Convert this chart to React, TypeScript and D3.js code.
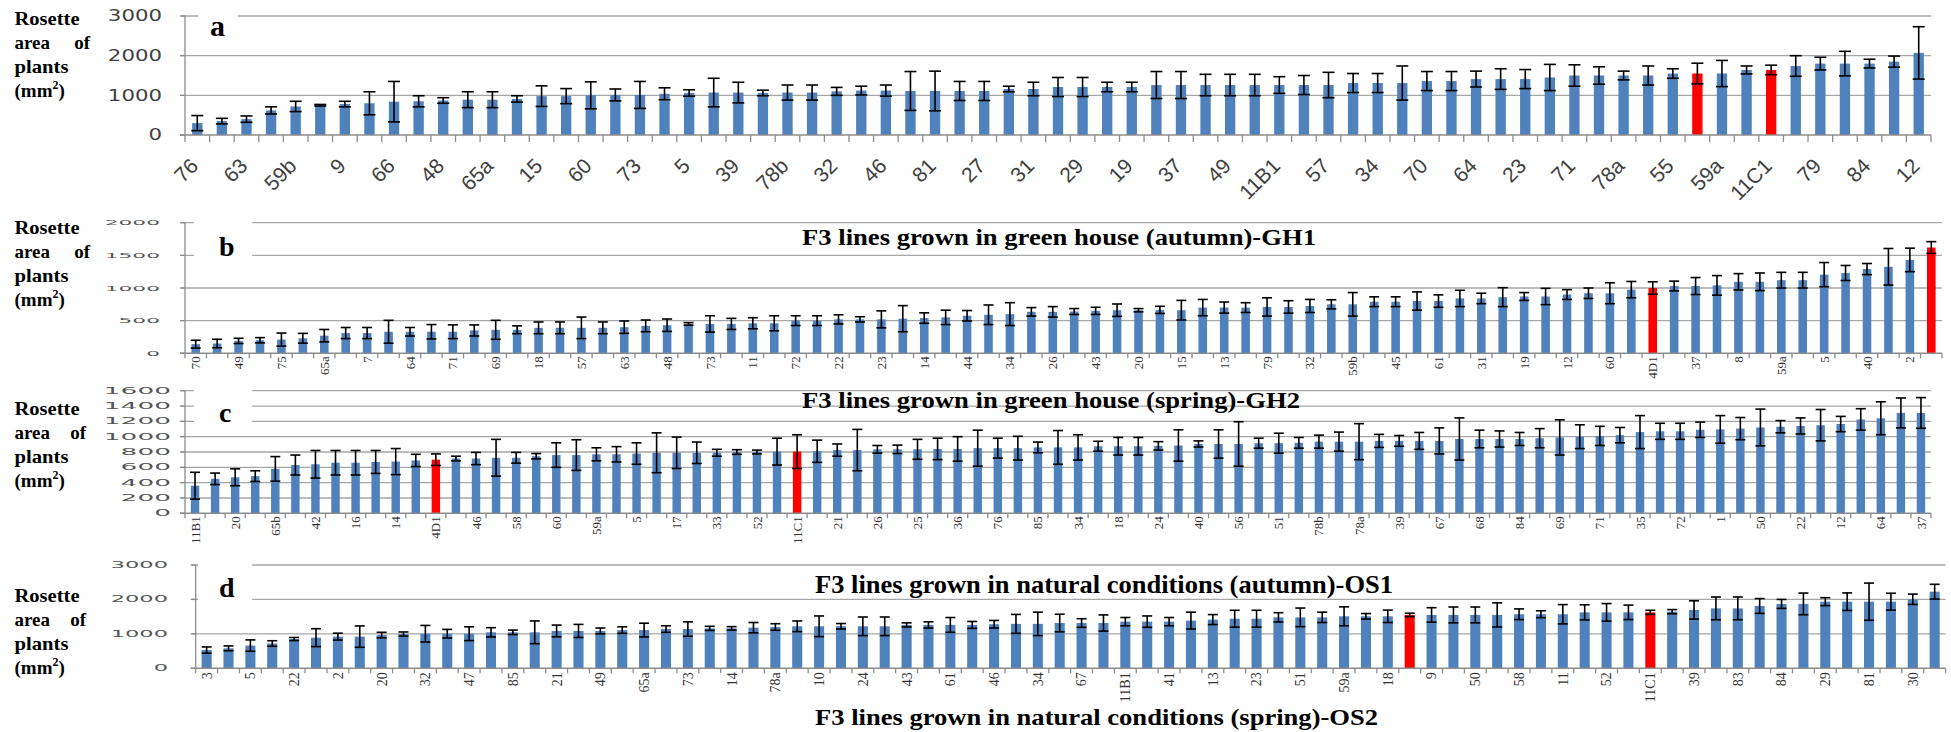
import React from "react";
import * as d3 from "d3";

// ---------------- DATA ----------------
// (a)
const aShown = ["76","63","59b","9","66","48","65a","15","60","73","5","39","78b","32","46","81","27","31","29","19","37","49","11B1","57","34","70","64","23","71","78a","55","59a","11C1","79","84","12"];
const aMeans = [300,350,400,620,720,750,780,800,840,850,870,890,890,910,980,980,1000,1010,1010,1040,1060,1070,1070,1060,1070,1070,1100,1120,1120,1110,1110,1110,1110,1160,1160,1210,1210,1210,1210,1260,1260,1260,1260,1260,1260,1260,1260,1310,1310,1310,1360,1360,1410,1410,1410,1450,1500,1500,1500,1500,1550,1550,1550,1640,1640,1740,1800,1800,1800,1850,2070];
const aErrs = [190,70,80,90,130,20,70,290,510,140,70,200,200,80,260,190,340,150,340,150,80,360,260,70,190,190,100,110,140,490,500,240,240,70,170,240,240,120,120,340,340,270,270,270,210,240,320,240,240,430,240,240,200,260,240,330,270,220,110,240,120,260,330,100,120,260,160,310,110,140,660];
const aRed = [61, 64];
const aTicks = [0, 1000, 2000, 3000];

// (b) GH1
const bShown = ["70","49","75","65a","7","64","71","69","18","57","63","48","73","11","72","22","23","14","44","34","26","43","20","15","13","79","32","59b","45","61","31","19","12","60","4D1","37","8","59a","5","40","2"];
const bMeans = [140,150,190,200,210,230,270,310,310,330,330,330,330,350,360,360,390,390,390,390,400,420,430,450,450,450,460,460,500,500,520,520,520,530,540,550,575,590,600,635,635,640,650,660,660,665,660,700,700,700,710,710,725,750,750,790,790,800,800,840,840,860,870,870,900,920,920,975,1000,1030,1030,1040,1095,1095,1120,1120,1205,1230,1290,1325,1430,1620];
const bErrs = [60,65,40,40,100,75,95,85,85,175,65,110,105,85,145,60,90,90,165,90,95,90,95,20,125,85,85,115,75,75,70,40,130,200,80,110,80,150,175,65,80,45,55,95,25,55,150,125,85,75,140,95,100,70,180,75,75,140,95,125,80,145,60,125,75,80,160,125,95,75,130,150,125,135,120,120,185,115,85,280,180,90];
const bRed = [68, 81];
const bTicks = [0, 500, 1000, 1500, 2000];

// (c) GH2
const cShown = ["11B1","20","65b","42","16","14","4D1","46","58","60","59a","5","17","33","52","11C1","21","26","25","36","76","85","34","18","24","40","56","51","78b","78a","39","67","68","84","69","71","35","72","1","50","22","12","64","37"];
const cMeans = [360,450,470,485,580,630,640,660,660,670,675,690,700,715,715,725,725,745,760,760,770,770,780,790,790,790,790,800,800,805,805,810,825,825,835,835,835,840,840,850,850,850,860,860,860,875,875,875,880,885,905,905,905,915,915,920,935,935,935,945,945,945,945,970,970,970,970,980,990,1000,1010,1020,1060,1070,1070,1090,1095,1105,1120,1130,1140,1150,1165,1225,1240,1310,1310];
const cErrs = [175,75,110,70,160,130,180,160,160,150,170,80,75,30,80,240,70,35,160,200,85,100,140,260,205,140,45,30,25,175,220,145,80,270,50,55,130,140,160,235,130,155,70,220,165,65,115,115,55,205,40,185,290,65,130,70,85,125,235,85,70,110,170,275,115,105,85,125,230,155,125,100,215,105,105,100,180,145,240,80,105,205,100,140,215,195,200];
const cRed = [12, 30];
const cTicks = [0, 200, 400, 600, 800, 1000, 1200, 1400, 1600];

// (d) OS1 / OS2
const dShown = ["3","5","22","2","20","32","47","85","21","49","65a","73","14","78a","10","24","43","61","46","34","67","11B1","41","13","23","51","59a","18","9","50","58","11","52","11C1","39","83","84","29","81","30"];
const dMeans = [530,580,660,720,850,890,920,920,965,995,1005,1005,1005,1045,1045,1045,1085,1085,1085,1110,1110,1140,1140,1160,1160,1180,1200,1220,1220,1220,1220,1220,1260,1260,1260,1260,1280,1290,1290,1315,1315,1315,1355,1355,1355,1385,1415,1440,1440,1480,1480,1480,1510,1510,1510,1550,1550,1550,1550,1550,1570,1570,1570,1625,1625,1625,1625,1645,1695,1740,1740,1810,1870,1870,1935,1935,1935,1935,2005,2225];
const dErrs = [90,70,165,80,45,260,100,310,80,60,240,125,200,135,65,330,170,190,85,95,200,95,210,60,50,150,95,155,300,80,270,270,60,90,215,100,110,275,340,255,125,235,120,165,120,245,145,245,245,135,270,150,275,80,180,50,210,230,230,350,155,100,280,220,255,210,60,60,265,330,330,215,130,315,115,255,540,245,150,215];
const dRed = [55, 66];
const dTicks = [0, 1000, 2000, 3000];

const titleB = "F3 lines grown in green house (autumn)-GH1";
const titleC = "F3 lines grown in green house (spring)-GH2";
const titleD = "F3 lines grown in natural conditions (autumn)-OS1";
const titleBottom = "F3 lines grown in natural conditions (spring)-OS2";

// labels shown on every second bar
const interleave = (shown: string[], n: number) =>
  d3.range(n).map((i) => (i % 2 === 0 && shown[i / 2] !== undefined ? shown[i / 2] : ""));

// ---------------- LAYOUT ----------------
const SERIF = "'Liberation Serif', 'Times New Roman', serif";
const BLUE = "#4f81bd";
const RED = "#ff0000";

type Spec = {
  letter: string;
  labels: string[];
  means: number[];
  errs: number[];
  red: number[];
  ticks: number[];
  left: number; right: number; y0: number; yTop: number;
  pad: number; cap: number; xTickLen: number;
  tickRight: number; tickFs: number; tickSx: number; tickFill: string;
  angle: number; labelFs: number; labelFont: string; labelFill: string; labelOff: number; labelDx: number;
  letterX: number; letterY: number; letterFs: number; box: [number, number, number, number];
  yTitleY: number; ofX: number;
  title?: { text: string; x: number; y: number; len: number; fs: number };
};

const panels: Spec[] = [
  {
    letter: "a", labels: interleave(aShown, aMeans.length), means: aMeans, errs: aErrs, red: aRed, ticks: aTicks,
    left: 185, right: 1931, y0: 135, yTop: 16, pad: 0.58, cap: 12, xTickLen: 7,
    tickRight: 162, tickFs: 15, tickSx: 1.42, tickFill: "#404040",
    angle: -45, labelFs: 21, labelFont: "'Liberation Sans', Arial, sans-serif", labelFill: "#404040", labelOff: 27, labelDx: -3,
    letterX: 210, letterY: 36, letterFs: 30, box: [198, 6, 40, 44],
    yTitleY: 25, ofX: 90,
  },
  {
    letter: "b", labels: interleave(bShown, bMeans.length), means: bMeans, errs: bErrs, red: bRed, ticks: bTicks,
    left: 185, right: 1942, y0: 353.3, yTop: 222.7, pad: 0.6, cap: 10, xTickLen: 5,
    tickRight: 160, tickFs: 7.5, tickSx: 2.9, tickFill: "#555",
    angle: -90, labelFs: 13, labelFont: SERIF, labelFill: "#333", labelOff: 3, labelDx: 0,
    letterX: 219, letterY: 256, letterFs: 28, box: [194, 219, 58, 40],
    yTitleY: 234, ofX: 90,
    title: { text: titleB, x: 802, y: 245, len: 514, fs: 23 },
  },
  {
    letter: "c", labels: interleave(cShown, cMeans.length), means: cMeans, errs: cErrs, red: cRed, ticks: cTicks,
    left: 185, right: 1931, y0: 513.3, yTop: 390.7, pad: 0.58, cap: 10, xTickLen: 5,
    tickRight: 171, tickFs: 8, tickSx: 3.3, tickFill: "#555",
    angle: -90, labelFs: 13, labelFont: SERIF, labelFill: "#333", labelOff: 3, labelDx: 0,
    letterX: 219, letterY: 422, letterFs: 28, box: [194, 387, 58, 39],
    yTitleY: 415, ofX: 86,
    title: { text: titleC, x: 802, y: 408, len: 498, fs: 23 },
  },
  {
    letter: "d", labels: interleave(dShown, dMeans.length), means: dMeans, errs: dErrs, red: dRed, ticks: dTicks,
    left: 195.7, right: 1945.6, y0: 668.3, yTop: 565, pad: 0.54, cap: 10, xTickLen: 5,
    tickRight: 168, tickFs: 8.2, tickSx: 2.75, tickFill: "#555",
    angle: -90, labelFs: 14, labelFont: SERIF, labelFill: "#333", labelOff: 4, labelDx: 0,
    letterX: 219, letterY: 597, letterFs: 28, box: [198, 561, 54, 43],
    yTitleY: 602, ofX: 86,
    title: { text: titleD, x: 815, y: 593, len: 578, fs: 25 },
  },
];

function YTitle({ y, ofX }: { y: number; ofX: number }) {
  const x = 14.5;
  return (
    <g fontFamily={SERIF} fontWeight="bold" fontSize={19} fill="#000">
      <text x={x} y={y} textLength={65} lengthAdjust="spacingAndGlyphs">Rosette</text>
      <text x={x} y={y + 24}>area</text>
      <text x={ofX} y={y + 24} textAnchor="end">of</text>
      <text x={x} y={y + 48} textLength={54} lengthAdjust="spacingAndGlyphs">plants</text>
      <text x={x} y={y + 72}>
        (mm<tspan fontSize={12} dy={-8}>2</tspan>
        <tspan dy={8}>)</tspan>
      </text>
    </g>
  );
}

function Panel({ p }: { p: Spec }) {
  const n = p.means.length;
  const x = d3.scaleBand<number>().domain(d3.range(n)).range([p.left, p.right]).paddingInner(p.pad).paddingOuter(p.pad / 2);
  const y = d3.scaleLinear().domain([0, p.ticks[p.ticks.length - 1]]).range([p.y0, p.yTop]);
  const step = x.step();
  const bw = x.bandwidth();
  const red = new Set(p.red);
  const gridC = "#a6a6a6";
  const axisC = "#8c8c8c";
  const rad = (p.angle * Math.PI) / 180;
  const ca = Math.cos(rad);
  const sa = Math.sin(rad);
  return (
    <g>
      {p.ticks.filter((t) => t > 0).map((t) => (
        <line key={"g" + t} x1={p.left - 4} x2={p.right} y1={y(t)} y2={y(t)} stroke={gridC} strokeWidth={1.3} />
      ))}
      <rect x={p.box[0]} y={p.box[1]} width={p.box[2]} height={p.box[3]} fill="#fff" />
      <text x={p.letterX} y={p.letterY} fontFamily={SERIF} fontWeight="bold" fontSize={p.letterFs}>{p.letter}</text>
      {p.title && (
        <text x={p.title.x} y={p.title.y} fontFamily={SERIF} fontWeight="bold" fontSize={p.title.fs}
          textLength={p.title.len} lengthAdjust="spacingAndGlyphs">{p.title.text}</text>
      )}
      {p.means.map((m, i) => (
        <rect key={"b" + i} x={x(i)!} y={y(m)} width={bw} height={p.y0 - y(m)} fill={red.has(i) ? RED : BLUE} />
      ))}
      {p.means.map((m, i) => {
        const cx = x(i)! + bw / 2;
        const hi = y(m + p.errs[i]);
        const lo = y(m - p.errs[i]);
        return (
          <g key={"e" + i} stroke="#000" strokeWidth={1.6}>
            <line x1={cx} x2={cx} y1={hi} y2={lo} />
            <line x1={cx - p.cap / 2} x2={cx + p.cap / 2} y1={hi} y2={hi} />
            <line x1={cx - p.cap / 2} x2={cx + p.cap / 2} y1={lo} y2={lo} />
          </g>
        );
      })}
      {/* axes */}
      <line x1={p.left} x2={p.left} y1={p.y0} y2={p.yTop} stroke={axisC} strokeWidth={1.3} />
      {p.ticks.map((t) => (
        <line key={"yt" + t} x1={p.left - 5} x2={p.left} y1={y(t)} y2={y(t)} stroke={axisC} strokeWidth={1.3} />
      ))}
      <line x1={p.left - 5} x2={p.right} y1={p.y0} y2={p.y0} stroke={axisC} strokeWidth={1.5} />
      {d3.range(n + 1).map((k) => (
        <line key={"xt" + k} x1={p.left + step * k} x2={p.left + step * k} y1={p.y0} y2={p.y0 + p.xTickLen} stroke={axisC} strokeWidth={1.3} />
      ))}
      {p.ticks.map((t) => (
        <text key={"tl" + t} transform={`translate(${p.tickRight},${y(t)}) scale(${p.tickSx},1)`} textAnchor="end" dy="0.36em"
          fontFamily="'DejaVu Sans', Verdana, sans-serif" fontSize={p.tickFs} fill={p.tickFill}>{t}</text>
      ))}
      {p.labels.map((l, i) => {
        if (!l) return null;
        const tx = x(i)! + bw / 2 + p.labelDx;
        const ty = p.y0 + p.labelOff;
        return (
          <text key={"xl" + i} transform={`matrix(${ca},${sa},${-sa},${ca},${tx},${ty})`} textAnchor="end" dy="0.35em"
            fontFamily={p.labelFont} fontSize={p.labelFs} fill={p.labelFill}>{l}</text>
        );
      })}
      <YTitle y={p.yTitleY} ofX={p.ofX} />
    </g>
  );
}

export default function App() {
  return (
    <svg width={1951} height={732} style={{ position: "absolute", left: 0, top: 0, background: "#fff" }}>
      <rect width={1951} height={732} fill="#fff" />
      {panels.map((p) => (
        <Panel key={p.letter} p={p} />
      ))}
      <text x={815} y={725} fontFamily={SERIF} fontWeight="bold" fontSize={24} textLength={563} lengthAdjust="spacingAndGlyphs">
        {titleBottom}
      </text>
    </svg>
  );
}
